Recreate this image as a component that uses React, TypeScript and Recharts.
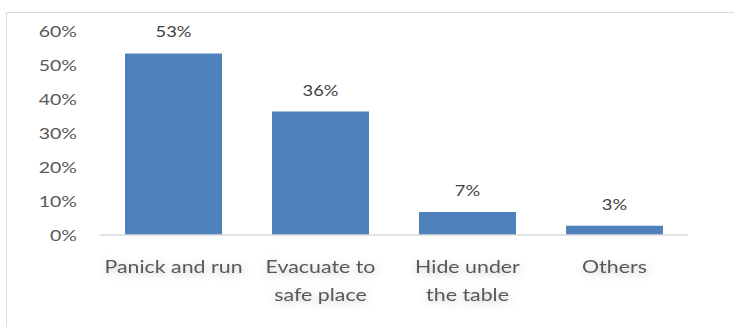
import React from "react";
import { BarChart, Bar, XAxis, YAxis, LabelList } from "recharts";

const categories = ["Panick and run", "Evacuate to\nsafe place", "Hide under\nthe table", "Others"];
const values = [0.534, 0.363, 0.068, 0.027];
const valueLabels = ["53%", "36%", "7%", "3%"];
const yTicks = [0, 0.1, 0.2, 0.3, 0.4, 0.5, 0.6];

const data = categories.map((c, i) => ({ name: c, value: values[i], label: valueLabels[i] }));

const FONT = "'Lato', 'Open Sans', sans-serif";
const TEXT = "#595959";
const SX = 1.22;

const CatTick = (props: any) => {
  const { x, y, payload, index } = props;
  const lines = String(payload.value).split("\n");
  const fid = `glow-${index ?? payload.index ?? 0}-${Math.round(x)}`;
  return (
    <g transform={`translate(${x},${y}) scale(${SX},1)`}>
      <defs>
        <filter id={fid} x="-30%" y="-60%" width="160%" height="220%">
          <feGaussianBlur in="SourceAlpha" stdDeviation="3.5" result="b" />
          <feOffset in="b" dx="1" dy="2" result="o" />
          <feFlood floodColor="#6f7b8f" floodOpacity="0.45" />
          <feComposite in2="o" operator="in" result="s" />
          <feMerge>
            <feMergeNode in="s" />
            <feMergeNode in="SourceGraphic" />
          </feMerge>
        </filter>
      </defs>
      <text
        x={0}
        y={0}
        textAnchor="middle"
        fill={TEXT}
        fontSize={17.5}
        fontFamily={FONT}
        filter={`url(#${fid})`}
      >
        {lines.map((l, i) => (
          <tspan key={i} x={0} dy={i === 0 ? 30 : 28}>
            {l}
          </tspan>
        ))}
      </text>
    </g>
  );
};

const YTick = (props: any) => {
  const { x, y, payload } = props;
  return (
    <g transform={`translate(${x},${y}) scale(${SX},1)`}>
      <text x={0} y={0} dy="0.355em" textAnchor="end" fill={TEXT} fontSize={16} fontFamily={FONT}>
        {`${Math.round(payload.value * 100)}%`}
      </text>
    </g>
  );
};

const ValueLabel = (props: any) => {
  const { x, y, width, value } = props;
  return (
    <g transform={`translate(${x + width / 2},${y - 16}) scale(${SX},1)`}>
      <text x={0} y={0} textAnchor="middle" fill="#404040" fontSize={15} fontFamily={FONT}>
        {value}
      </text>
    </g>
  );
};

export default function App() {
  return (
    <div style={{ position: "absolute", left: 0, top: 0, width: 734, height: 327, background: "#fff", overflow: "hidden" }}>
      <div
        style={{
          position: "absolute",
          left: 6,
          top: 12,
          width: 760,
          height: 340,
          border: "1px solid #d9d9d9",
          boxSizing: "border-box",
        }}
      />
      <div style={{ position: "absolute", left: 0, top: 0 }}>
        <BarChart
          width={734}
          height={327}
          data={data}
          margin={{ top: 31, right: 46, bottom: 62, left: 0 }}
          barSize={97}
        >
          <XAxis
            dataKey="name"
            axisLine={{ stroke: "#d9d9d9", strokeWidth: 1.5 }}
            tickLine={false}
            tick={<CatTick />}
            interval={0}
          />
          <YAxis
            width={100}
            domain={[0, 0.6]}
            ticks={yTicks}
            axisLine={false}
            tickLine={false}
            tickMargin={17}
            tick={<YTick />}
          />
          <Bar dataKey="value" fill="#4f81bd" isAnimationActive={false}>
            <LabelList dataKey="label" content={<ValueLabel />} />
          </Bar>
        </BarChart>
      </div>
    </div>
  );
}
